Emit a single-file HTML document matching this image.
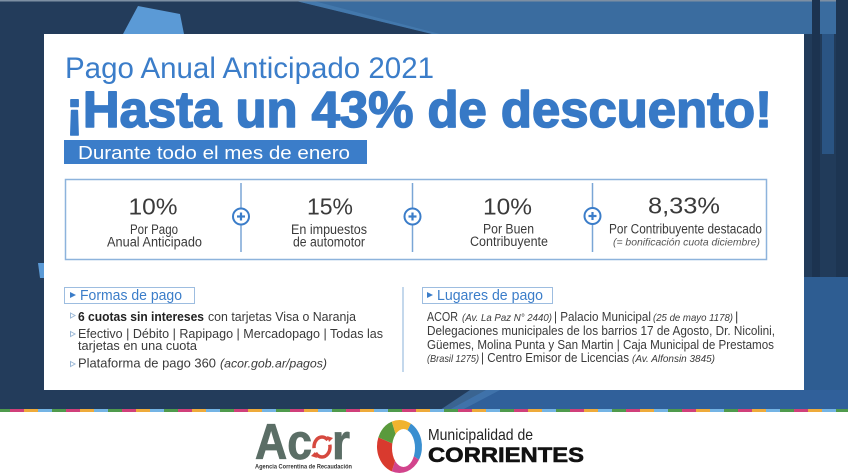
<!DOCTYPE html>
<html>
<head>
<meta charset="utf-8">
<style>
html,body{margin:0;padding:0;background:#fff;}
svg{display:block;}
text{font-family:"Liberation Sans",sans-serif;}
</style>
</head>
<body>
<svg width="848" height="475" viewBox="0 0 848 475" xmlns="http://www.w3.org/2000/svg">
  <!-- background -->
  <rect x="0" y="0" width="848" height="410" fill="#233c5b"/>
  <polygon points="292,0 848,0 848,34 432,34" fill="#3a6c9f"/>
  <polygon points="292,0 310,0 440,34 432,34" fill="#4a80b6" opacity="0.6"/>
  <rect x="0" y="0" width="848" height="1.5" fill="#7d8fa3"/>
  <polygon points="123,34 138,6 180,14 184,34" fill="#5b9ad6"/>
  <!-- right strip -->
  <rect x="804" y="34" width="44" height="243" fill="#213b5a"/>
  <rect x="812" y="0" width="8" height="277" fill="#1c3350"/>
  <rect x="836" y="0" width="12" height="277" fill="#1d3552"/>
  <rect x="822" y="34" width="12" height="120" fill="#2a5483"/>
  <rect x="804" y="277" width="44" height="133" fill="#2e5d92"/>
  <!-- bottom band -->
  <polygon points="486,390 848,390 848,410 449,410" fill="#30609a"/>
  <polygon points="470,390 500,390 462,410 440,410" fill="#4a7fb5" opacity="0.6"/>
  <polygon points="38,263 44,263 44,278 40,278" fill="#5b9ad6"/>
  <!-- stripe -->
  <defs>
    <pattern id="stripe" x="10" y="0" width="56" height="4" patternUnits="userSpaceOnUse">
      <rect x="0" y="0" width="14" height="4" fill="#d0407a"/>
      <rect x="14" y="0" width="14" height="4" fill="#eeaa3a"/>
      <rect x="28" y="0" width="14" height="4" fill="#74b4e4"/>
      <rect x="42" y="0" width="14" height="4" fill="#4f9a4c"/>
    </pattern>
  </defs>
  <rect x="0" y="409" width="848" height="3" fill="url(#stripe)"/>

  <!-- white panel -->
  <rect x="44" y="34" width="760" height="356" fill="#ffffff"/>

  <!-- headings -->
  <text x="65" y="78" font-size="30" fill="#3b7dc9" textLength="369" lengthAdjust="spacingAndGlyphs">Pago Anual Anticipado 2021</text>
  <text x="66" y="127" font-size="51" font-weight="bold" fill="#3779c6" stroke="#3779c6" stroke-width="1.6" stroke-linejoin="round" textLength="706" lengthAdjust="spacingAndGlyphs">¡Hasta un 43% de descuento!</text>
  <rect x="64" y="140" width="303" height="24" fill="#3b7dc9"/>
  <text x="78" y="159" font-size="18" fill="#ffffff" textLength="272" lengthAdjust="spacingAndGlyphs">Durante todo el mes de enero</text>

  <!-- percentages box -->
  <rect x="65.5" y="179.5" width="701" height="80" fill="none" stroke="#8db3dc" stroke-width="1.5"/>
  <g stroke="#7aa6d6" stroke-width="1.5">
    <line x1="241" y1="183" x2="241" y2="252"/>
    <line x1="412.5" y1="183" x2="412.5" y2="252"/>
    <line x1="592.5" y1="183" x2="592.5" y2="252"/>
  </g>
  <g fill="#ffffff" stroke="#3b7dc9" stroke-width="2">
    <circle cx="241" cy="216.5" r="8"/>
    <circle cx="412.5" cy="216.5" r="8"/>
    <circle cx="592.5" cy="216" r="8"/>
  </g>
  <g stroke="#3b7dc9" stroke-width="2.2">
    <line x1="237" y1="216.5" x2="245" y2="216.5"/><line x1="241" y1="212.5" x2="241" y2="220.5"/>
    <line x1="408.5" y1="216.5" x2="416.5" y2="216.5"/><line x1="412.5" y1="212.5" x2="412.5" y2="220.5"/>
    <line x1="588.5" y1="216" x2="596.5" y2="216"/><line x1="592.5" y1="212" x2="592.5" y2="220"/>
  </g>

  <g fill="#3a3a3a" text-anchor="middle">
    <text x="153" y="214.5" font-size="23" textLength="49" lengthAdjust="spacingAndGlyphs">10%</text>
    <text x="154" y="234" font-size="13.5" textLength="48" lengthAdjust="spacingAndGlyphs">Por Pago</text>
    <text x="154.5" y="246.5" font-size="13.5" textLength="95" lengthAdjust="spacingAndGlyphs">Anual Anticipado</text>

    <text x="330" y="214.5" font-size="23" textLength="46" lengthAdjust="spacingAndGlyphs">15%</text>
    <text x="329" y="234" font-size="13.5" textLength="76" lengthAdjust="spacingAndGlyphs">En impuestos</text>
    <text x="329" y="246.5" font-size="13.5" textLength="72" lengthAdjust="spacingAndGlyphs">de automotor</text>

    <text x="507.5" y="214.5" font-size="23" textLength="49" lengthAdjust="spacingAndGlyphs">10%</text>
    <text x="508.5" y="233.5" font-size="13.5" textLength="51" lengthAdjust="spacingAndGlyphs">Por Buen</text>
    <text x="509" y="246" font-size="13.5" textLength="78" lengthAdjust="spacingAndGlyphs">Contribuyente</text>

    <text x="684" y="213.5" font-size="23" textLength="72" lengthAdjust="spacingAndGlyphs">8,33%</text>
    <text x="685.5" y="233.5" font-size="13.5" textLength="153" lengthAdjust="spacingAndGlyphs">Por Contribuyente destacado</text>
    <text x="686.5" y="245.5" font-size="10" font-style="italic" fill="#555" textLength="147" lengthAdjust="spacingAndGlyphs">(= bonificación cuota diciembre)</text>
  </g>

  <!-- Formas de pago -->
  <rect x="64.5" y="287.5" width="130" height="16" fill="#fff" stroke="#9dbde0" stroke-width="1"/>
  <polygon points="70,292 76,295 70,298" fill="#3b7dc9"/>
  <text x="80" y="300" font-size="14.5" fill="#3b7dc9" textLength="102" lengthAdjust="spacingAndGlyphs">Formas de pago</text>

  <g fill="none" stroke="#9cb8d6" stroke-width="1">
    <polygon points="70.5,313 75,315.5 70.5,318"/>
    <polygon points="70.5,331.5 75,334 70.5,336.5"/>
    <polygon points="70.5,361.5 75,364 70.5,366.5"/>
  </g>
  <g fill="#3a3a3a" font-size="13">
    <text x="78" y="321" font-weight="bold" fill="#222" textLength="126" lengthAdjust="spacingAndGlyphs">6 cuotas sin intereses</text>
    <text x="208" y="321" textLength="148" lengthAdjust="spacingAndGlyphs">con tarjetas Visa o Naranja</text>
    <text x="78" y="338" textLength="305" lengthAdjust="spacingAndGlyphs">Efectivo | Débito | Rapipago | Mercadopago | Todas las</text>
    <text x="78" y="350" textLength="119" lengthAdjust="spacingAndGlyphs">tarjetas en una cuota</text>
    <text x="78" y="367.5" textLength="138" lengthAdjust="spacingAndGlyphs">Plataforma de pago 360</text>
    <text x="220" y="367.5" font-size="12" font-style="italic" textLength="107" lengthAdjust="spacingAndGlyphs">(acor.gob.ar/pagos)</text>
  </g>

  <line x1="403" y1="287" x2="403" y2="372" stroke="#9dbde0" stroke-width="1.2"/>

  <!-- Lugares de pago -->
  <rect x="422.5" y="287.5" width="130" height="16" fill="#fff" stroke="#9dbde0" stroke-width="1"/>
  <polygon points="427,292 433,295 427,298" fill="#3b7dc9"/>
  <text x="437" y="300" font-size="14.5" fill="#3b7dc9" textLength="106" lengthAdjust="spacingAndGlyphs">Lugares de pago</text>

  <g fill="#3a3a3a" font-size="12.8">
    <text x="427" y="321" textLength="31" lengthAdjust="spacingAndGlyphs">ACOR</text>
    <text x="462" y="321" font-size="10.5" font-style="italic" textLength="90" lengthAdjust="spacingAndGlyphs">(Av. La Paz N° 2440)</text>
    <text x="554" y="321" textLength="97" lengthAdjust="spacingAndGlyphs">| Palacio Municipal</text>
    <text x="653" y="321" font-size="10.5" font-style="italic" textLength="80" lengthAdjust="spacingAndGlyphs">(25 de mayo 1178)</text>
    <text x="735" y="321">|</text>
    <text x="427" y="335" textLength="348" lengthAdjust="spacingAndGlyphs">Delegaciones municipales de los barrios 17 de Agosto, Dr. Nicolini,</text>
    <text x="427" y="349" textLength="347" lengthAdjust="spacingAndGlyphs">Güemes, Molina Punta y San Martin | Caja Municipal de Prestamos</text>
    <text x="427" y="362" font-size="10.5" font-style="italic" textLength="52" lengthAdjust="spacingAndGlyphs">(Brasil 1275)</text>
    <text x="481" y="362" textLength="148" lengthAdjust="spacingAndGlyphs">| Centro Emisor de Licencias</text>
    <text x="632" y="362" font-size="10.5" font-style="italic" textLength="83" lengthAdjust="spacingAndGlyphs">(Av. Alfonsin 3845)</text>
  </g>

  <!-- Acor logo -->
  <text x="255" y="459" font-size="50" font-weight="bold" fill="#5b6e66" stroke="#5b6e66" stroke-width="0.8" textLength="57" lengthAdjust="spacingAndGlyphs">Ac</text>
  <ellipse cx="322" cy="447" rx="8" ry="10" fill="none" stroke="#d6493f" stroke-width="3.5" stroke-dasharray="22 5"/>
  <polygon points="327,436 333,438 329,442" fill="#d6493f"/>
  <polygon points="317,458 311,456 315,452" fill="#d6493f"/>
  <text x="332" y="459" font-size="50" font-weight="bold" fill="#5b6e66" stroke="#5b6e66" stroke-width="0.8" textLength="18" lengthAdjust="spacingAndGlyphs">r</text>
  <text x="255" y="468.5" font-size="6" font-weight="bold" fill="#333" textLength="97" lengthAdjust="spacingAndGlyphs">Agencia Correntina de Recaudación</text>

  <!-- Corrientes ring -->
  <g>
    <path d="M399.5,446.5 L410.75,423.55 A22.5,26.5 0 0 1 418.98,459.75 Z" fill="#3a8fd0"/>
    <path d="M399.5,446.5 L418.98,459.75 A22.5,26.5 0 0 1 391.8,471.4 Z" fill="#d2448c"/>
    <path d="M399.5,446.5 L391.8,471.4 A22.5,26.5 0 0 1 378.35,437.4 Z" fill="#d93a2e"/>
    <path d="M399.5,446.5 L378.35,437.4 A22.5,26.5 0 0 1 391.8,421.6 Z" fill="#5a9a3c"/>
    <path d="M399.5,446.5 L391.8,421.6 A22.5,26.5 0 0 1 410.75,423.55 Z" fill="#f0b32e"/>
    <ellipse cx="403.5" cy="448" rx="11.5" ry="19" fill="#ffffff"/>
  </g>
  <text x="428" y="440" font-size="16" fill="#222" textLength="105" lengthAdjust="spacingAndGlyphs">Municipalidad de</text>
  <text x="428" y="462" font-size="21" font-weight="bold" fill="#111" stroke="#111" stroke-width="0.6" textLength="156" lengthAdjust="spacingAndGlyphs">CORRIENTES</text>
</svg>
</body>
</html>
